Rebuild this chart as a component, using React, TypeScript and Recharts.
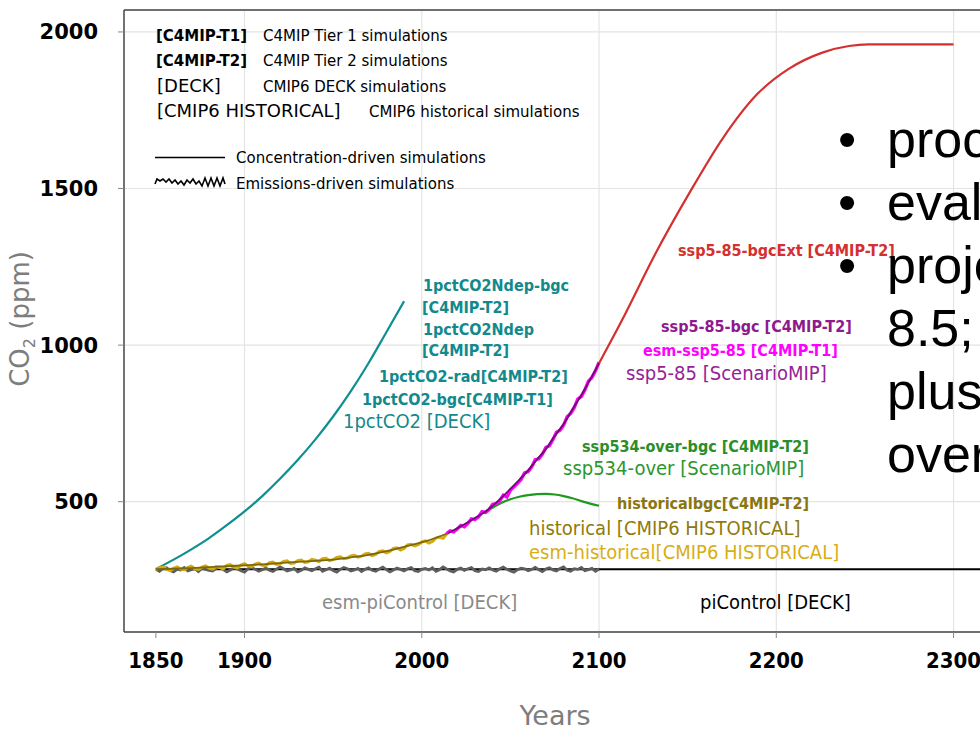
import React from 'react';
import { LineChart, Line, XAxis, YAxis, ReferenceLine, CartesianGrid } from 'recharts';

const FONT = "'DejaVu Sans Condensed', 'DejaVu Sans', sans-serif";
const FONT_N = "'DejaVu Sans', sans-serif";

const xTicks = [1850, 1900, 2000, 2100, 2200, 2300];
const xGrid = [1900, 2000, 2100, 2200, 2300];
const yTicks = [500, 1000, 1500, 2000];

// 1pctCO2 family (teal)
const pctYears = [1850, 1860, 1870, 1880, 1890, 1900, 1910, 1920, 1930, 1940, 1950, 1960, 1970, 1980, 1990];
const pctPpm = [285, 315, 348, 384, 425, 469, 518, 573, 633, 699, 772, 853, 943, 1041, 1140];

// piControl (black, flat)
const piYears = [1850, 2320];
const piPpm = [284, 284];

// historical (olive)
const histYears = [1850, 1860, 1870, 1880, 1890, 1900, 1910, 1920, 1930, 1940, 1950, 1960, 1970, 1980, 1990, 2000, 2010, 2015];
const histPpm = [285, 286, 288, 291, 294, 297, 300, 304, 308, 311, 315, 322, 330, 342, 356, 370, 389, 400];

// ssp5-85 (purple)
const sspYears = [2015, 2020, 2025, 2030, 2035, 2040, 2045, 2050, 2055, 2060, 2065, 2070, 2075, 2080, 2085, 2090, 2095, 2100];
const sspPpm = [400, 415, 431, 448, 465, 487, 513, 541, 570, 600, 635, 668, 710, 748, 795, 840, 890, 942];

// ssp534-over (green)
const overYears = [2038, 2040, 2045, 2050, 2055, 2060, 2065, 2070, 2075, 2080, 2085, 2090, 2095, 2100];
const overPpm = [476, 481, 497, 508, 516, 521, 524, 525, 523, 518, 511, 502, 494, 487];

// ssp5-85-bgcExt (red)
const extYears = [2100, 2113, 2132, 2151, 2170, 2189, 2207, 2226, 2241, 2252, 2275, 2300];
const extPpm = [942, 1080, 1294, 1486, 1662, 1800, 1882, 1934, 1955, 1960, 1960, 1960];

// emissions-driven noisy series, every 2 years
const esmPiStart = 1850;
const esmPiPpm = [
  284, 278, 287, 289, 280, 276, 285, 282, 290, 279, 283, 286,
  277, 288, 284, 281, 279, 287, 291, 283, 276, 282, 289, 285,
  280, 275, 286, 290, 284, 278, 283, 288, 281, 277, 285, 292,
  286, 279, 282, 287, 276, 281, 289, 284, 280, 286, 291, 278,
  283, 288, 280, 275, 284, 290, 286, 279, 282, 287, 277, 284,
  289, 281, 278, 285, 291, 283, 276, 282, 288, 284, 279, 286,
  290, 280, 277, 284, 287, 282, 289, 278, 283, 292, 285, 279,
  276, 284, 288, 281, 286, 290, 280, 277, 285, 283, 289, 282,
  278, 286, 291, 284, 279, 275, 283, 288, 286, 280, 284, 290,
  283, 277, 285, 289, 282, 279, 287, 292, 281, 278, 286, 284,
  290, 280, 283, 287, 278, 285,
];
const esmHistStart = 1850;
const esmHistPpm = [
  283, 289, 291, 284, 280, 287, 292, 285, 283, 290, 294, 286,
  284, 291, 295, 288, 285, 293, 290, 286, 297, 299, 291, 289,
  298, 302, 295, 293, 301, 304, 297, 296, 305, 307, 300, 302,
  309, 311, 303, 304, 312, 314, 306, 308, 316, 313, 309, 318,
  319, 312, 315, 322, 324, 318, 320, 327, 329, 323, 326, 333,
  335, 328, 332, 341, 343, 337, 341, 351, 353, 346, 351, 362,
  364, 359, 363, 372, 375, 368, 373, 384, 387, 383, 397,
];
const esmSspStart = 2014;
const esmSspPpm = [
  398, 407, 404, 413, 424, 420, 431, 445, 443, 452, 468, 466,
  475, 492, 494, 503, 521, 515, 537, 548, 559, 571, 592, 596,
  611, 634, 637, 651, 673, 679, 699, 722, 728, 744, 771, 782,
  800, 828, 836, 857, 885, 897, 918, 946,
];

const zip = (xs: number[], vs: number[]) => xs.map((year, i) => ({ year, v: vs[i] }));
const every2 = (start: number, vs: number[]) => vs.map((v, i) => ({ year: start + 2 * i, v }));

const pctData = zip(pctYears, pctPpm);
const piData = zip(piYears, piPpm);
const histData = zip(histYears, histPpm);
const sspData = zip(sspYears, sspPpm);
const overData = zip(overYears, overPpm);
const extData = zip(extYears, extPpm);
const esmPiData = every2(esmPiStart, esmPiPpm);
const esmHistData = every2(esmHistStart, esmHistPpm);
const esmSspData = every2(esmSspStart, esmSspPpm);

type Lab = { t: string; x: number; y: number; c: string; s: number; w?: number; n?: boolean };
const labels: Lab[] = [
  { t: '1pctCO2Ndep-bgc', x: 423, y: 291, c: '#12898c', s: 16, w: 700 },
  { t: '[C4MIP-T2]', x: 422, y: 313, c: '#12898c', s: 16, w: 700 },
  { t: '1pctCO2Ndep', x: 423, y: 335, c: '#12898c', s: 16, w: 700 },
  { t: '[C4MIP-T2]', x: 422, y: 356, c: '#12898c', s: 16, w: 700 },
  { t: '1pctCO2-rad[C4MIP-T2]', x: 379, y: 382, c: '#12898c', s: 16, w: 700 },
  { t: '1pctCO2-bgc[C4MIP-T1]', x: 362, y: 405, c: '#12898c', s: 16, w: 700 },
  { t: '1pctCO2 [DECK]', x: 343, y: 428, c: '#12898c', s: 20 },
  { t: 'ssp5-85-bgcExt [C4MIP-T2]', x: 678, y: 256, c: '#d3302f', s: 16, w: 700 },
  { t: 'ssp5-85-bgc [C4MIP-T2]', x: 661, y: 332, c: '#8e1a8e', s: 16, w: 700 },
  { t: 'esm-ssp5-85 [C4MIP-T1]', x: 643, y: 356, c: '#ff00ff', s: 16, w: 700 },
  { t: 'ssp5-85 [ScenarioMIP]', x: 626, y: 380, c: '#962296', s: 20 },
  { t: 'ssp534-over-bgc [C4MIP-T2]', x: 582, y: 452, c: '#2a8f2a', s: 16, w: 700 },
  { t: 'ssp534-over [ScenarioMIP]', x: 563, y: 475, c: '#2e962e', s: 20 },
  { t: 'historicalbgc[C4MIP-T2]', x: 617, y: 509, c: '#8a760e', s: 16, w: 700 },
  { t: 'historical [CMIP6 HISTORICAL]', x: 529, y: 535, c: '#8f7a0c', s: 20 },
  { t: 'esm-historical[CMIP6 HISTORICAL]', x: 529, y: 559, c: '#d8ae14', s: 20 },
  { t: 'esm-piControl [DECK]', x: 322, y: 609, c: '#8a8a8a', s: 20 },
  { t: 'piControl [DECK]', x: 700, y: 609, c: '#000000', s: 20 },
  // legend block
  { t: '[C4MIP-T1]', x: 156, y: 41, c: '#000', s: 15, w: 700, n: true },
  { t: 'C4MIP Tier 1 simulations', x: 263, y: 41, c: '#000', s: 15, n: true },
  { t: '[C4MIP-T2]', x: 156, y: 66, c: '#000', s: 15, w: 700, n: true },
  { t: 'C4MIP Tier 2 simulations', x: 263, y: 66, c: '#000', s: 15, n: true },
  { t: '[DECK]', x: 157, y: 92, c: '#000', s: 18, n: true },
  { t: 'CMIP6 DECK simulations', x: 263, y: 92, c: '#000', s: 15, n: true },
  { t: '[CMIP6 HISTORICAL]', x: 157, y: 117, c: '#000', s: 18, n: true },
  { t: 'CMIP6 historical simulations', x: 369, y: 117, c: '#000', s: 15, n: true },
  { t: 'Concentration-driven simulations', x: 236, y: 163, c: '#000', s: 15, n: true },
  { t: 'Emissions-driven simulations', x: 236, y: 189, c: '#000', s: 15, n: true },
];

const bullets = [
  { t: 'proc', y: 157, dot: true },
  { t: 'eval', y: 220, dot: true },
  { t: 'proje', y: 283, dot: true },
  { t: '8.5;', y: 346, dot: false },
  { t: 'plus', y: 409, dot: false },
  { t: 'over', y: 472, dot: false },
];

export default function App() {
  const tickY = { fontFamily: FONT_N, fontWeight: 700, fontSize: 21, fill: '#000' };
  const tickX = { fontFamily: FONT, fontStretch: 'condensed', fontWeight: 700, fontSize: 22, fill: '#000' };
  return (
    <div style={{ position: 'absolute', left: 0, top: 0, width: 980, height: 730, overflow: 'hidden', background: '#fff' }}>
      <LineChart width={1000} height={730} margin={{ top: 10, right: 11, bottom: 38, left: 0 }}>
        <CartesianGrid vertical={false} stroke="#e4e4e4" strokeWidth={1.2} />
        {xGrid.map((g) => (
          <ReferenceLine key={g} x={g} stroke="#e4e4e4" strokeWidth={1.2} />
        ))}
        <ReferenceLine y={2070} stroke="#444" strokeWidth={1.5} />
        <XAxis
          dataKey="year"
          type="number"
          domain={[1832, 2320]}
          ticks={xTicks}
          allowDuplicatedCategory={false}
          height={60}
          tickSize={6}
          tickMargin={14}
          tick={tickX}
          stroke="#444"
          strokeWidth={1.5}
          tickLine={{ stroke: '#888', strokeWidth: 1 }}
        />
        <YAxis
          dataKey="v"
          type="number"
          domain={[84, 2070]}
          ticks={yTicks}
          width={124}
          tickSize={6}
          tickMargin={20}
          tick={tickY}
          stroke="#444"
          strokeWidth={1.5}
          tickLine={{ stroke: '#888', strokeWidth: 1 }}
        />
        <Line data={piData} dataKey="v" stroke="#000" strokeWidth={2} dot={false} isAnimationActive={false} />
        <Line data={esmPiData} dataKey="v" stroke="#5e5e5e" strokeWidth={2.8} dot={false} isAnimationActive={false} />
        <Line data={pctData} dataKey="v" type="monotone" stroke="#0f8f8f" strokeWidth={2.2} dot={false} isAnimationActive={false} />
        <Line data={esmHistData} dataKey="v" stroke="#d4aa10" strokeWidth={3} dot={false} isAnimationActive={false} />
        <Line data={histData} dataKey="v" type="monotone" stroke="#7a6a0a" strokeWidth={1.8} dot={false} isAnimationActive={false} />
        <Line data={overData} dataKey="v" type="monotone" stroke="#1f9a1f" strokeWidth={2.2} dot={false} isAnimationActive={false} />
        <Line data={esmSspData} dataKey="v" stroke="#ff00ff" strokeWidth={3.4} dot={false} isAnimationActive={false} />
        <Line data={sspData} dataKey="v" type="monotone" stroke="#6a0f6a" strokeWidth={1.8} dot={false} isAnimationActive={false} />
        <Line data={extData} dataKey="v" type="monotone" stroke="#d3302f" strokeWidth={2.2} dot={false} isAnimationActive={false} />
      </LineChart>
      <svg width={980} height={730} style={{ position: 'absolute', left: 0, top: 0, pointerEvents: 'none' }}>
        {labels.map((l, i) => (
          <text key={i} x={l.x} y={l.y} fill={l.c} fontSize={l.s} fontWeight={l.w || 400}
            style={{ fontFamily: l.n ? FONT_N : FONT, fontStretch: l.n ? 'normal' : 'condensed', whiteSpace: 'pre' }}>{l.t}</text>
        ))}
        <line x1={155} y1={157.5} x2={225} y2={157.5} stroke="#000" strokeWidth={1.5} />
        <polyline fill="none" stroke="#000" strokeWidth={1.6}
          points="155,184 157,179 160,181 163,179 166,182 169,179 172,183 175,180 178,184 181,181 184,185 187,180 190,183 193,179 196,184 199,181 202,186 205,178 208,186 211,178 214,186 217,178 220,186 223,178 225,184" />
        <text x={0} y={0} transform="translate(29,319) rotate(-90)" textAnchor="middle" fill="#7d7d7d" fontSize={26}
          style={{ fontFamily: FONT_N }}>
          CO<tspan fontSize={16} dy={6}>2</tspan><tspan dy={-6}> (ppm)</tspan>
        </text>
        <text x={555} y={725} textAnchor="middle" fill="#7d7d7d" fontSize={27}
          style={{ fontFamily: FONT_N }}>Years</text>
        {bullets.map((b, i) => (
          <g key={i}>
            {b.dot ? <text x={838} y={b.y} fontSize={52} fill="#000" style={{ fontFamily: "'Liberation Sans', Arial, sans-serif" }}>•</text> : null}
            <text x={887} y={b.y} fontSize={52} fill="#000" style={{ fontFamily: "'Liberation Sans', Arial, sans-serif" }}>{b.t}</text>
          </g>
        ))}
      </svg>
    </div>
  );
}
